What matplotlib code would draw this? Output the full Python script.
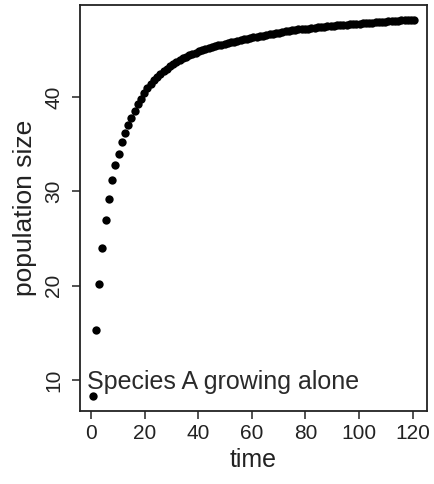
import numpy as np
import matplotlib
matplotlib.use('Agg')
import matplotlib.pyplot as plt

plt.rcParams['font.family'] = ['Liberation Sans', 'DejaVu Sans']

time = np.arange(0.6, 121.0, 1.2)

# population size of species A
population = [
    8.3, 15.3, 20.2, 24.0, 27.0, 29.2, 31.2, 32.8, 34.0, 35.2,
    36.2, 37.0, 37.8, 38.5, 39.2, 39.8, 40.4, 40.9, 41.35, 41.75,
    42.1, 42.4, 42.7, 43.0, 43.25, 43.5, 43.7, 43.9, 44.1, 44.25,
    44.4, 44.55, 44.7, 44.85, 44.95, 45.05, 45.15, 45.25, 45.35, 45.45,
    45.55, 45.65, 45.7, 45.8, 45.85, 45.95, 46.0, 46.1, 46.15, 46.2,
    46.3, 46.35, 46.45, 46.5, 46.6, 46.65, 46.7, 46.75, 46.8, 46.9,
    46.95, 47.0, 47.05, 47.1, 47.15, 47.2, 47.25, 47.25, 47.3, 47.35,
    47.4, 47.4, 47.45, 47.5, 47.5, 47.55, 47.6, 47.6, 47.65, 47.65,
    47.7, 47.7, 47.75, 47.75, 47.8, 47.8, 47.85, 47.85, 47.9, 47.9,
    47.95, 47.95, 48.0, 48.0, 48.05, 48.05, 48.1, 48.1, 48.1, 48.15,
    48.15,
]

x_ticks = [0, 20, 40, 60, 80, 100, 120]
y_ticks = [10, 20, 30, 40]
label_text = "Species A growing alone"

fig = plt.figure(figsize=(4.34, 4.84), dpi=100)
ax = fig.add_axes([0.1843, 0.1508, 0.7996, 0.8389])

ax.plot(time, population, 'o', color='black', markersize=6.0, markeredgewidth=0)
ax.margins(x=0.04, y=0.04)

ax.set_xticks(x_ticks)
ax.set_yticks(y_ticks)
ax.tick_params(axis='both', direction='out', length=6, width=1.1,
               labelsize=15, labelcolor='#222222', colors='#222222')
ax.tick_params(axis='x', pad=3)
ax.tick_params(axis='y', pad=6)
for lab in ax.get_yticklabels():
    lab.set_rotation(90)
    lab.set_va('center')

for sp in ax.spines.values():
    sp.set_linewidth(1.3)
    sp.set_color('#222222')

ax.set_xlabel('time', fontsize=18, color='#222222', labelpad=4)
ax.set_ylabel('population size', fontsize=19, color='#222222', labelpad=5)

ax.text(-1.4, 9.05, label_text, fontsize=18, color='#2a2a2a',
        ha='left', va='baseline')

fig.savefig('out.png', dpi=100, facecolor='white')
